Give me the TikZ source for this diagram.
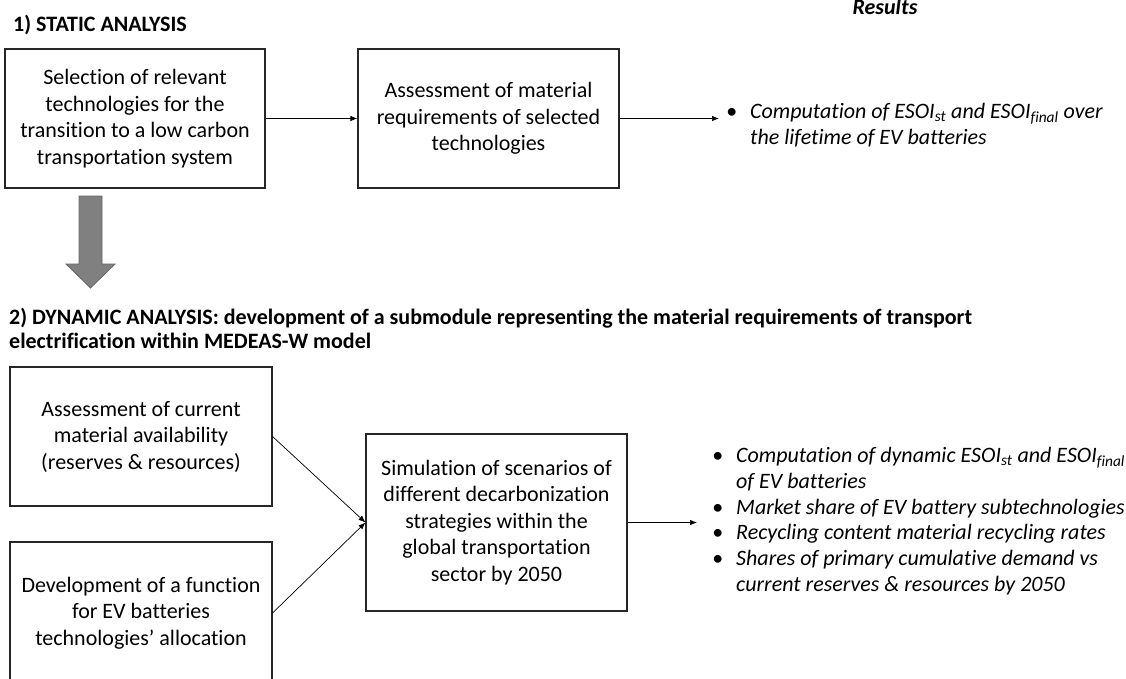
\documentclass[tikz,border=0pt]{standalone}
\usepackage{fontspec}
\setmainfont{Carlito}[Ligatures=NoCommon]
\usetikzlibrary{arrows.meta}

\newcommand{\resbullet}{\makebox[24pt][l]{\textbullet}}
\newcommand{\resindent}{\hspace*{24pt}}

\begin{document}
\begin{tikzpicture}[x=1pt, y=-1pt,
        box/.style={draw=black!85, line width=1.1pt, align=center, inner sep=0pt,
            font=\fontsize{22}{26.5}\selectfont},
        link/.style={line width=0.7pt, -{Latex[length=7pt,width=5.5pt]}},
        results/.style={align=left, inner ysep=0pt,
            font=\fontsize{22}{25.7}\selectfont\itshape},
        heading/.style={align=left, inner sep=0pt, anchor=west,
            font=\fontsize{22}{23.5}\selectfont\bfseries}]
    \useasboundingbox (0,0) rectangle (1126,679);
    \clip (0,0) rectangle (1126,679);

    % headings
    \draw (13,25) node(static) [heading] {1) STATIC ANALYSIS};
    \draw (9,328.5) node(dynamic) [heading]
        {2) DYNAMIC ANALYSIS: development of a submodule representing the material requirements of transport\\
         electrification within MEDEAS-W model};
    \draw (885,15) node(results) [anchor=base, inner sep=0pt,
        font=\fontsize{22}{26}\selectfont\bfseries\itshape] {Results};

    % static analysis
    \draw (135,118.5) node(select) [box, minimum width=260pt, minimum height=139pt]
        {Selection of relevant\\ technologies for the\\ transition to a low carbon\\ transportation system};
    \draw (488.5,118.5) node(assess) [box, minimum width=261pt, minimum height=139pt]
        {Assessment of material\\ requirements of selected\\ technologies};
    \draw (719,125) node(res1) [results, anchor=west, inner xsep=7pt]
        {\resbullet Computation of ESOI\textsubscript{st} and ESOI\textsubscript{final} over\\
         \resindent the lifetime of EV batteries};
    \draw[link] (select) -- (assess);
    \draw[link] (assess.east) -- (assess.east -| res1.west);

    % big arrow between the two parts
    \draw[draw=black!60, fill=black!50, line width=0.8pt]
        (79,196) -- (102,196) -- (102,264) -- (115,264) -- (90.5,288)
        -- (66,264) -- (79,264) -- cycle;

    % dynamic analysis
    \draw (141,436.5) node(avail) [box, minimum width=262pt, minimum height=139pt]
        {Assessment of current\\ material availability\\ (reserves \& resources)};
    \draw (141,613) node(alloc) [box, minimum width=262pt, minimum height=142pt]
        {Development of a function\\ for EV batteries\\ technologies’ allocation};
    \draw (496.5,522.5) node(simul) [box, minimum width=261pt, minimum height=177pt]
        {Simulation of scenarios of\\ different decarbonization\\ strategies within the\\ global transportation\\ sector by 2050};
    \draw (697,521) node(res2) [results, anchor=west, inner xsep=15pt]
        {\resbullet Computation of dynamic ESOI\textsubscript{st} and ESOI\textsubscript{final}\\
         \resindent of EV batteries\\
         \resbullet Market share of EV battery subtechnologies\\
         \resbullet Recycling content material recycling rates\\
         \resbullet Shares of primary cumulative demand vs\\
         \resindent current reserves \& resources by 2050};
    \draw[link] (avail.east) -- (simul.west);
    \draw[link] (alloc.east) -- (simul.west);
    \draw[link] (simul.east) -- (simul.east -| res2.west);
\end{tikzpicture}
\end{document}
